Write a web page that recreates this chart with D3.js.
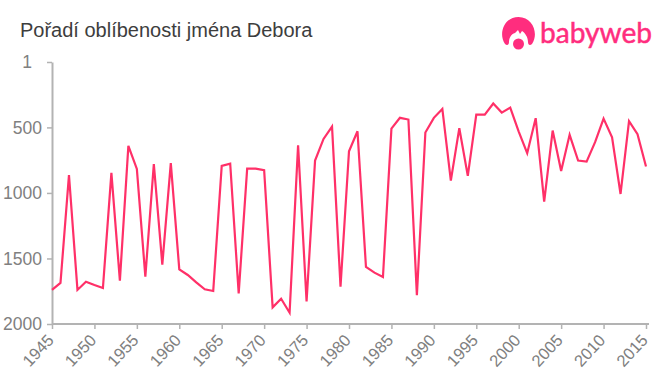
<!DOCTYPE html>
<html>
<head>
<meta charset="utf-8">
<script src="https://cdn.jsdelivr.net/npm/d3@7"></script>
<style>
body { margin: 0; background: #fff; }
text { font-family: "Liberation Sans", Arial, sans-serif; }
</style>
</head>
<body>
<svg id="chart"></svg>
<script>
var title = "Pořadí oblíbenosti jména Debora";
var years = d3.range(1945, 2016);
var ranks = [1740, 1687, 863, 1740, 1677, 1702, 1725, 847, 1669, 641,
    817, 1639, 779, 1547, 773, 1583, 1626, 1682, 1735, 1748,
    794, 776, 1766, 814, 814, 827, 1873, 1807, 1914, 636,
    1828, 753, 588, 494, 1715, 682, 529, 1565, 1608, 1641,
    509, 427, 440, 1781, 539, 427, 359, 906, 506, 870,
    402, 402, 318, 387, 349, 532, 697, 430, 1066, 524,
    832, 557, 753, 761, 613, 433, 575, 1008, 453, 552, 799];
var yTicks = [1, 500, 1000, 1500, 2000];
var xTicks = d3.range(1945, 2016, 5);

var svgWidth = 660, svgHeight = 375;
var margin = { top: 62, right: 11, bottom: 51, left: 52 };
var width = svgWidth - margin.left - margin.right;
var height = svgHeight - margin.top - margin.bottom;
var pink = "#ff3068", axisGrey = "#b3b3b3", labelGrey = "#808080";

var svg = d3.select("#chart")
    .attr("width", svgWidth)
    .attr("height", svgHeight)
    .style("display", "block");

svg.append("text")
    .attr("x", 20)
    .attr("y", 37)
    .attr("fill", "#3d3d3d")
    .style("font-size", "20px")
    .text(title);

var g = svg.append("g")
    .attr("transform", "translate(" + margin.left + "," + margin.top + ")");

// 1945 to 2015 takes 594px, the axis line runs a bit further
var x = d3.scaleLinear().domain([1945, 2015]).range([0, 594]);
var y = d3.scaleLinear().domain([1, 2000]).range([0, height]);

var xAxis = g.append("g")
    .attr("transform", "translate(0," + height + ")")
    .call(d3.axisBottom(x).tickValues(xTicks).tickFormat(d3.format("d")).tickSize(5).tickSizeOuter(0));
xAxis.select(".domain").attr("d", "M0,0H" + width);
xAxis.selectAll("text")
    .attr("fill", labelGrey)
    .style("font-size", "16.5px")
    .attr("text-anchor", "end")
    .attr("x", 0)
    .attr("y", 0)
    .attr("dy", "0.35em")
    .attr("transform", "translate(-2,13) rotate(-47)");

var yAxis = g.append("g")
    .call(d3.axisLeft(y).tickValues(yTicks).tickFormat(d3.format("d")).tickSize(5).tickSizeOuter(0));
yAxis.selectAll("text")
    .attr("fill", labelGrey)
    .style("font-size", "17.5px")
    .attr("x", function(d) { return d === 1 ? -20 : -10; }); // the 1 sits further left in the original

g.selectAll(".domain, .tick line")
    .attr("stroke", axisGrey);
g.selectAll(".domain").attr("stroke-width", 2);
g.selectAll(".tick line").attr("stroke-width", 1.5);

var line = d3.line()
    .x(function(d, i) { return x(years[i]); })
    .y(function(d) { return y(d); });

g.append("path")
    .datum(ranks)
    .attr("fill", "none")
    .attr("stroke", pink)
    .attr("stroke-width", 2.2)
    .attr("stroke-linejoin", "miter")
    .attr("d", line);

// logo
var logo = svg.append("g").attr("fill", "#ff2d7e");
logo.append("path")
    .attr("d", "M505,44 C498,34 504,17 518.5,17 C533,17 539,34 532,44 C530,46 528,45 528,42 C528,37 525,33 522,31 L520,34 L518,30 L515,33 C511,34 509,38 509,42 C509,45 507,46 505,44 Z");
logo.append("circle").attr("cx", 518.5).attr("cy", 44).attr("r", 5.5);
svg.append("text")
    .attr("x", 540)
    .attr("y", 43)
    .attr("fill", "#ff2d7e")
    .attr("stroke", "#ff2d7e")
    .attr("stroke-width", 0.5)
    .attr("textLength", 112)
    .attr("lengthAdjust", "spacingAndGlyphs")
    .style("font-family", "Lato, sans-serif")
    .style("font-size", "29px")
    .text("babyweb");
</script>
</body>
</html>
